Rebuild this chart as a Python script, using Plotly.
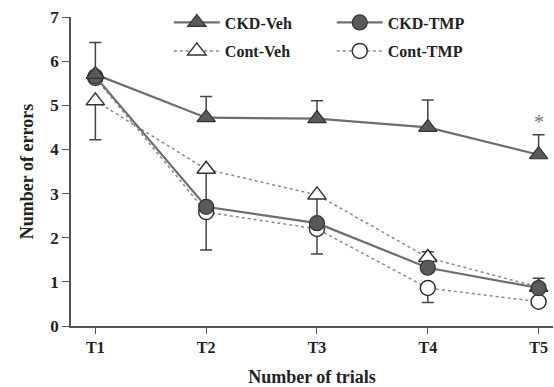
import plotly.graph_objects as go

trials = ["T1", "T2", "T3", "T4", "T5"]

ckd_veh = [5.7, 4.72, 4.7, 4.5, 3.88]
ckd_veh_err_up = [0.72, 0.48, 0.4, 0.62, 0.45]

cont_veh = [5.1, 3.55, 2.97, 1.55, 0.88]
cont_veh_err_up = [0, 0, 0, 0.13, 0]
cont_veh_err_dn = [0.88, 0.8, 0.62, 0, 0]

ckd_tmp = [5.65, 2.7, 2.33, 1.32, 0.86]
ckd_tmp_err_up = [0, 0, 0, 0, 0.22]

cont_tmp = [5.62, 2.58, 2.2, 0.86, 0.55]
cont_tmp_err_dn = [0, 0.86, 0.57, 0.33, 0]

y_ticks = [0, 1, 2, 3, 4, 5, 6, 7]

SERIF = "Liberation Serif, Times New Roman, serif"
LINE_DARK = "#6e6e6e"
LINE_DOT = "#8a8a8a"
FILL = "#5a5a5a"
EDGE = "#333333"

fig = go.Figure()

def err(up, dn=None):
    d = dict(type="data", array=up, symmetric=dn is None, color="#444444",
             thickness=1.5, width=6)
    if dn is not None:
        d["arrayminus"] = dn
    return d

fig.add_trace(go.Scatter(
    x=trials, y=cont_veh, name="Cont-Veh", mode="lines+markers",
    line=dict(color=LINE_DOT, width=1.5, dash="dot"),
    marker=dict(symbol="triangle-up", size=16, color="white",
                line=dict(color=EDGE, width=1.5)),
    error_y=err(cont_veh_err_up, cont_veh_err_dn), legend="legend3"))

fig.add_trace(go.Scatter(
    x=trials, y=cont_tmp, name="Cont-TMP", mode="lines+markers",
    line=dict(color=LINE_DOT, width=1.5, dash="dot"),
    marker=dict(symbol="circle", size=15, color="white",
                line=dict(color=EDGE, width=1.5)),
    error_y=err([0] * 5, cont_tmp_err_dn), legend="legend4"))

fig.add_trace(go.Scatter(
    x=trials, y=ckd_tmp, name="CKD-TMP", mode="lines+markers",
    line=dict(color=LINE_DARK, width=2.2),
    marker=dict(symbol="circle", size=15, color=FILL,
                line=dict(color=EDGE, width=1.2)),
    error_y=err(ckd_tmp_err_up, [0] * 5), legend="legend2"))

fig.add_trace(go.Scatter(
    x=trials, y=ckd_veh, name="CKD-Veh", mode="lines+markers",
    line=dict(color=LINE_DARK, width=2.2),
    marker=dict(symbol="triangle-up", size=16, color=FILL,
                line=dict(color=EDGE, width=1.2)),
    error_y=err(ckd_veh_err_up, [0] * 5), legend="legend"))

fig.add_annotation(x="T5", y=4.62, text="*", showarrow=False,
                   font=dict(family=SERIF, size=20, color="#777777"))

leg_font = dict(family=SERIF, size=16, color="#222222", weight="bold")
def leg(x, y):
    return dict(x=x, y=y, xref="paper", yref="paper", xanchor="left",
                yanchor="middle", font=leg_font, bgcolor="rgba(0,0,0,0)",
                itemwidth=46)

fig.update_layout(
    width=554, height=387,
    margin=dict(l=71, r=1, t=17, b=61),
    paper_bgcolor="white", plot_bgcolor="white",
    font=dict(family=SERIF, size=16, color="#222222"),
    showlegend=True,
    legend=leg(0.203, 0.982),
    legend2=leg(0.541, 0.982),
    legend3=leg(0.203, 0.89),
    legend4=leg(0.541, 0.89),
    xaxis=dict(
        range=[-0.22, 4.13], showline=True, linecolor="#555555", linewidth=1.5,
        ticks="outside", ticklen=6, tickwidth=1.2, tickcolor="#555555",
        showgrid=False, zeroline=False,
        tickfont=dict(family=SERIF, size=16, color="#222222", weight="bold"),
        title=dict(text="<b>Number of trials</b>", standoff=15,
                   font=dict(family=SERIF, size=18, color="#222222")),
    ),
    yaxis=dict(
        range=[0, 7], tickvals=y_ticks, showline=True, linecolor="#555555",
        linewidth=1.5, ticks="outside", ticklen=7, tickwidth=1.2,
        tickcolor="#555555", showgrid=False, zeroline=False,
        tickfont=dict(family=SERIF, size=17, color="#222222", weight="bold"),
        title=dict(text="<b>Number of errors</b>", standoff=12,
                   font=dict(family=SERIF, size=18, color="#222222")),
    ),
)

fig.write_html("out.html",
               config={"displayModeBar": False},
               post_script="document.body.style.margin='0';"
                           "document.body.style.overflow='hidden';")
